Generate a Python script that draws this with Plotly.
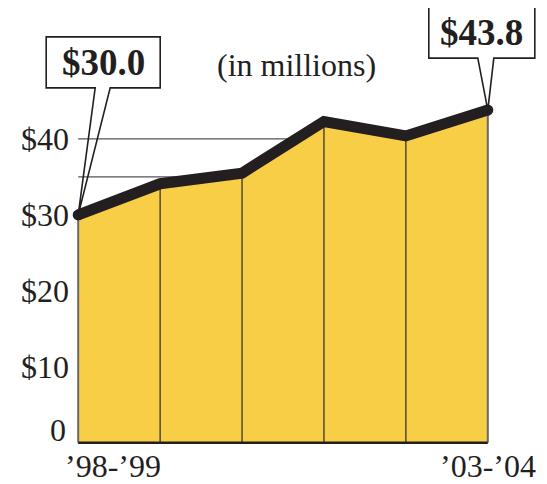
import plotly.graph_objects as go

# ---- data ----
seasons = ["’98-’99", "’99-’00", "’00-’01", "’01-’02", "’02-’03", "’03-’04"]
values = [30.0, 34.1, 35.5, 42.3, 40.4, 43.8]          # $ millions
y_tick_vals = [10, 20, 30, 40]
y_tick_text = ["$10", "$20", "$30", "$40"]
zero_label = "0"
grid_vals = [35, 40]
x_label_idx = [0, 5]
callout_text = ["$30.0", "$43.8"]
subtitle = "(in millions)"

# ---- styling ----
FONT = "Liberation Serif"
INK = "#231F20"
YELLOW = "#F7CE46"
# page has an 8px body margin; size the figure to fit the 547x484 window
W, H = 539, 476
XR = [-0.1, 5.1]
YR = [-0.3, 44.6]
ML, MT = 62, 96
PW, PH = 426, 341
MR, MB = W - ML - PW, H - MT - PH

xs = list(range(len(seasons)))


def xp(x):
    return (x - XR[0]) / (XR[1] - XR[0])


def yp(y):
    return (y - YR[0]) / (YR[1] - YR[0])


fig = go.Figure()

# area fill
fig.add_trace(go.Scatter(x=xs, y=values, fill="tozeroy", fillcolor=YELLOW,
                         mode="lines", line=dict(width=0), hoverinfo="skip"))

# inner dividers
dx, dy = [], []
for x, v in zip(xs[1:-1], values[1:-1]):
    dx += [x, x, None]
    dy += [0, v, None]
fig.add_trace(go.Scatter(x=dx, y=dy, mode="lines",
                         line=dict(color="#2a2a2a", width=1.2), hoverinfo="skip"))

# outer edges
ex, ey = [], []
for i in (0, -1):
    ex += [xs[i], xs[i], None]
    ey += [0, values[i], None]
fig.add_trace(go.Scatter(x=ex, y=ey, mode="lines",
                         line=dict(color="#6a6a6a", width=2), hoverinfo="skip"))

# baseline
fig.add_trace(go.Scatter(x=[xs[0], xs[-1]], y=[0, 0], mode="lines",
                         line=dict(color=INK, width=2.6), hoverinfo="skip"))

# thick top line
fig.add_trace(go.Scatter(x=xs, y=values, mode="lines",
                         line=dict(color=INK, width=11), hoverinfo="skip"))
fig.add_trace(go.Scatter(x=[xs[0], xs[-1]], y=[values[0], values[-1]], mode="markers",
                         marker=dict(color=INK, size=11), cliponaxis=False, hoverinfo="skip"))

# gridlines (behind the area)
for g in grid_vals:
    fig.add_shape(type="line", xref="x", yref="y", x0=xs[0], x1=xs[-1], y0=g, y1=g,
                  line=dict(color="#555555", width=1.2), layer="below")

# callouts: box + pointer to data point (pixel offsets relative to the point)
callouts = [
    dict(i=0, box=(-32, 82, 127, 178), base=(17, 32), text=(25, 152.5)),
    dict(i=5, box=(-59, 47, 52, 103), base=(-10, 6), text=(-6, 77.5)),
]
for c, label in zip(callouts, callout_text):
    x0, x1, y0, y1 = c["box"]
    b0, b1 = c["base"]
    path = (f"M {x0},{y1} L {x1},{y1} L {x1},{y0} L {b1},{y0} L 0,0 "
            f"L {b0},{y0} L {x0},{y0} Z")
    i = c["i"]
    fig.add_shape(type="path", path=path, xref="paper", yref="paper",
                  xsizemode="pixel", ysizemode="pixel",
                  xanchor=xp(xs[i]), yanchor=yp(values[i]),
                  line=dict(color=INK, width=1.6), fillcolor="rgba(0,0,0,0)",
                  layer="above")
    fig.add_annotation(x=xp(xs[i]), y=yp(values[i]), xref="paper", yref="paper",
                       xshift=c["text"][0], yshift=c["text"][1], showarrow=False,
                       text=f"<b>{label}</b>",
                       font=dict(family=FONT, size=37, color=INK),
                       xanchor="center", yanchor="middle")

# subtitle
fig.add_annotation(x=0.5317, y=1.114, xref="paper", yref="paper", text=subtitle,
                   showarrow=False, xanchor="center", yanchor="middle",
                   font=dict(family=FONT, size=32, color=INK))

# zero label (raised)
fig.add_annotation(x=XR[0], y=0, xref="x", yref="y", text=zero_label, showarrow=False,
                   xanchor="right", yanchor="middle", xshift=-2, yshift=13,
                   font=dict(family=FONT, size=32, color=INK))

# x labels
fig.add_annotation(x=xs[x_label_idx[0]], y=0, xref="x", yref="y",
                   text=seasons[x_label_idx[0]], showarrow=False,
                   xanchor="left", yanchor="middle", xshift=-15, yshift=-23,
                   font=dict(family=FONT, size=32, color=INK))
fig.add_annotation(x=xs[x_label_idx[1]], y=0, xref="x", yref="y",
                   text=seasons[x_label_idx[1]], showarrow=False,
                   xanchor="center", yanchor="middle", yshift=-23,
                   font=dict(family=FONT, size=32, color=INK))

fig.update_layout(
    width=W, height=H, margin=dict(l=ML, r=MR, t=MT, b=MB, autoexpand=False),
    paper_bgcolor="white", plot_bgcolor="white", showlegend=False,
    xaxis=dict(range=XR, showgrid=False, zeroline=False, showline=False,
               showticklabels=False, ticks="", fixedrange=True),
    yaxis=dict(range=YR, showgrid=False, zeroline=False, showline=False,
               tickvals=y_tick_vals, ticktext=y_tick_text, ticks="",
               tickfont=dict(family=FONT, size=32, color=INK), automargin=False,
               fixedrange=True),
)

fig.write_html("out.html")
